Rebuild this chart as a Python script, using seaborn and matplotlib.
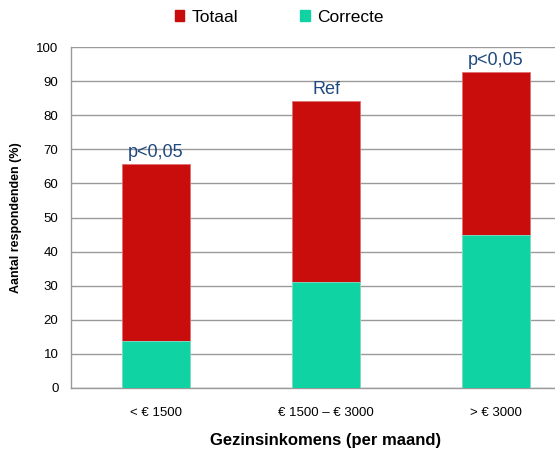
import pandas as pd
import seaborn as sns
import matplotlib.pyplot as plt
from matplotlib.patches import Patch

categorieen = ["< € 1500", "€ 1500 – € 3000", "> € 3000"]
totaal = [65.7, 84.2, 92.7]
correcte = [13.8, 31.2, 44.9]
annotaties = ["p<0,05", "Ref", "p<0,05"]

rood = "#C90D0D"
groen = "#10D3A4"

data_tab = pd.DataFrame({"Inkomen": categorieen, "Totaal": totaal, "Correcte": correcte})

sns.set_style("white")
plt.rcParams['font.family'] = ['Liberation Sans', 'DejaVu Sans']
plt.rcParams['text.color'] = "black"
plt.rcParams['axes.labelcolor'] = "black"
plt.rcParams['xtick.color'] = "black"
plt.rcParams['ytick.color'] = "black"

fig = plt.figure(figsize=(5.55, 4.54), dpi=100)
ax = fig.add_axes([71/555, 1-388/454, 510/555, 341/454])

sns.barplot(data=data_tab, x="Inkomen", y="Totaal", color=rood, width=0.4,
            saturation=1, ax=ax, zorder=2, edgecolor="#e07070", linewidth=0.6)
sns.barplot(data=data_tab, x="Inkomen", y="Correcte", color=groen, width=0.4,
            saturation=1, ax=ax, zorder=3, edgecolor="#80e6cc", linewidth=0.6)

for i, (t, a) in enumerate(zip(totaal, annotaties)):
    ax.text(i, t + 0.8, a, ha="center", va="bottom", fontsize=13, color="#1F497D")

ax.set_ylim(0, 100)
ax.set_xlim(-0.5, 2.5)
ax.set_yticks(range(0, 101, 10))
ax.yaxis.grid(True, color="#9a9a9a", lw=1, zorder=0)
ax.set_axisbelow(True)

# ticks op de grenzen tussen categorieen
ax.set_xticks([0, 1, 2])
ax.set_xticklabels(categorieen, fontsize=9.5)
ax.set_xticks([0.5, 1.5], minor=True)
ax.tick_params(axis="x", which="major", length=0, pad=14)
ax.tick_params(axis="x", which="minor", length=5, color="#9a9a9a", width=1)
ax.tick_params(axis="y", length=5, color="#9a9a9a", width=1, labelsize=9.5, pad=4,
               labelcolor="black")

for s in ["top", "right"]:
    ax.spines[s].set_visible(False)
for s in ["left", "bottom"]:
    ax.spines[s].set_color("#9a9a9a")
    ax.spines[s].set_linewidth(1)

ax.set_xlabel("Gezinsinkomens (per maand)", fontsize=12, fontweight="bold", labelpad=10)
ax.set_ylabel("Aantal respondenden (%)", fontsize=9, fontweight="bold", labelpad=10)

handles = [Patch(color=rood, label="Totaal"), Patch(color=groen, label="Correcte")]
fig.legend(handles=handles, loc="center", bbox_to_anchor=(0.503, 1-17/454), ncol=2,
           frameon=False, fontsize=12.5, handlelength=0.55, handleheight=0.55,
           handletextpad=0.4, columnspacing=3.6)

plt.savefig("out.png", dpi=100)
